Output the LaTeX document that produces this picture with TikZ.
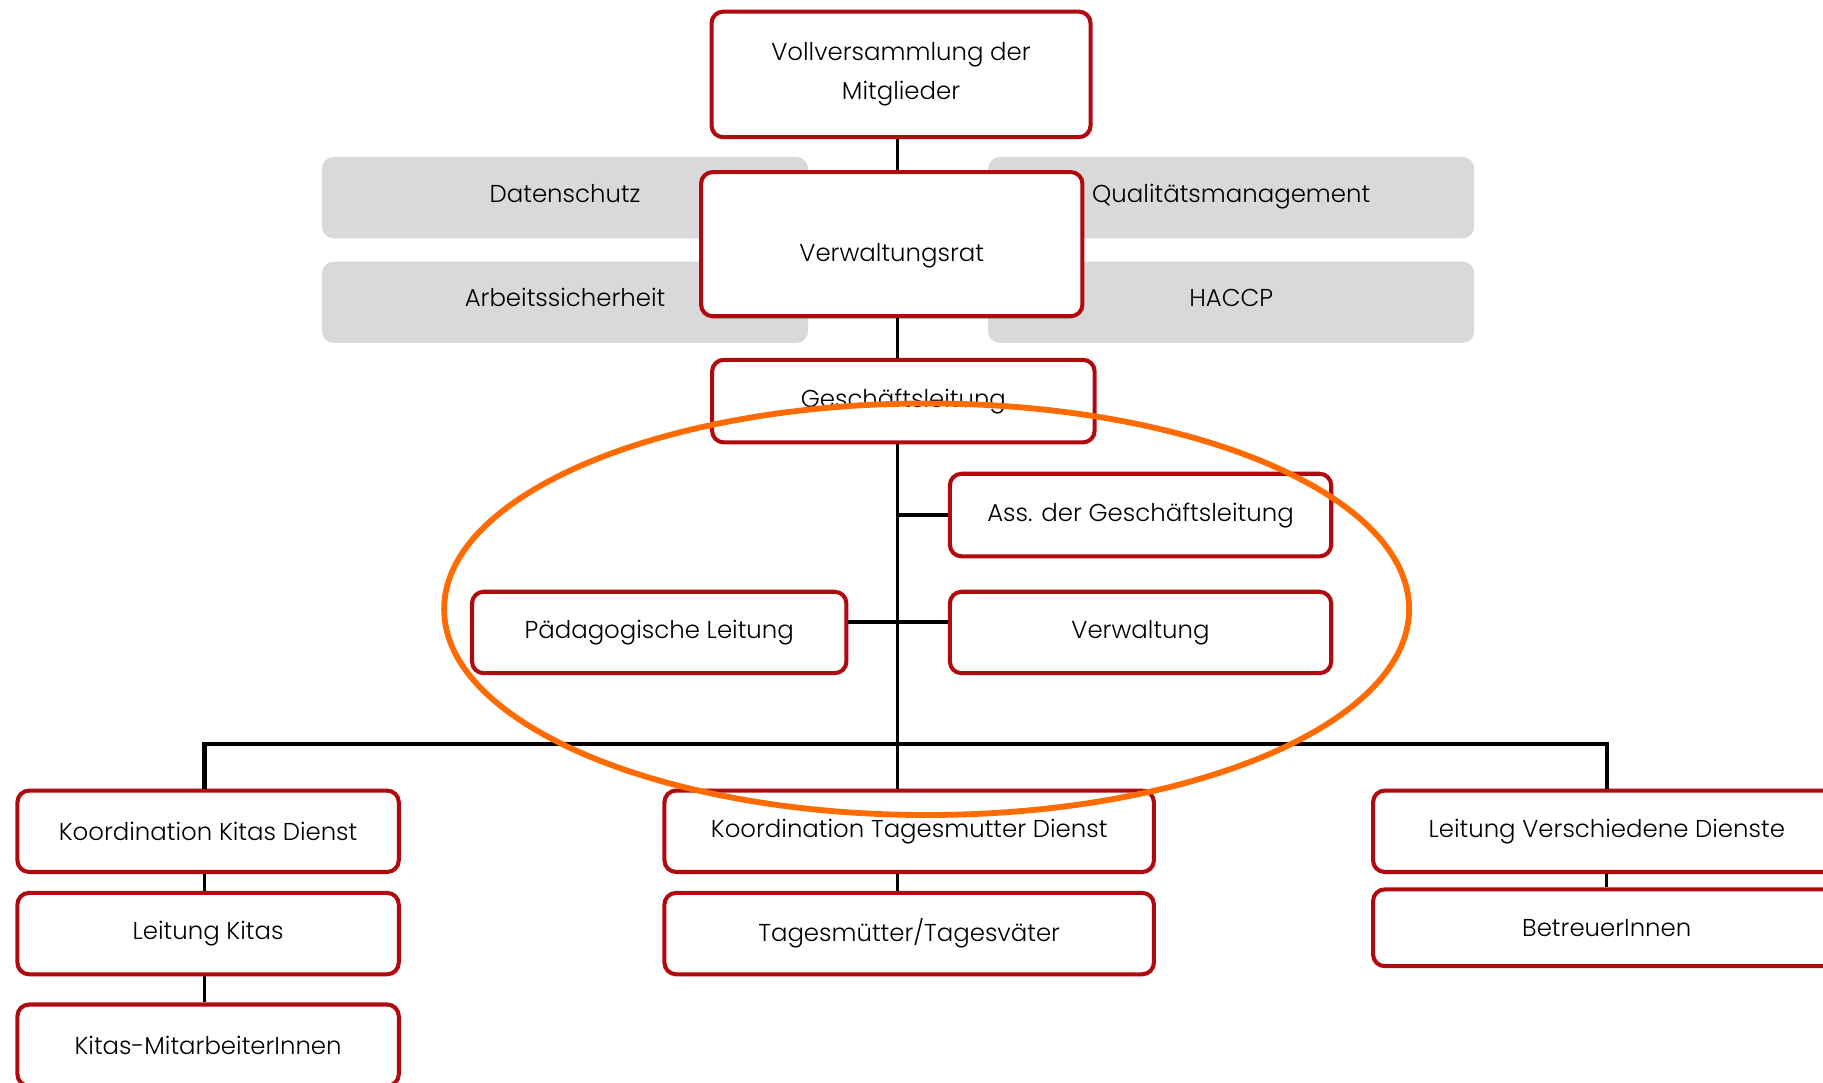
\documentclass[tikz,border=0pt]{standalone}
\usepackage{fontspec}
\setmainfont{Poppins}[UprightFont=* Light]
\definecolor{boxred}{HTML}{B00A0F}
\definecolor{sidegray}{HTML}{D9D9D9}
\definecolor{markorange}{HTML}{FF6B00}

\tikzset{
  orgbox/.style = {draw=boxred, line width=3.5pt, rounded corners=10pt, fill=white,
    align=center, inner sep=0pt, text centered, font=\fontsize{21}{34}\selectfont},
  sidebox/.style = {fill=sidegray, rounded corners=10pt, align=center, inner sep=0pt,
    minimum width=418, minimum height=70, text depth=8pt, font=\fontsize{21}{34}\selectfont},
  link/.style = {line width=2.5pt, black},
  thicklink/.style = {link, line width=3.8pt}
}

\begin{document}
\begin{tikzpicture}[x=1pt,y=-1pt]
\useasboundingbox (0,0) rectangle (1568,931);
\clip (0,0) rectangle (1568,931);

% gremien neben dem verwaltungsrat
\node [sidebox] (ds) at (486,170) {Datenschutz};
\node [sidebox] (as) at (486,260) {Arbeitssicherheit};
\node [sidebox] (qm) at (1059,170) {Qualitätsmanagement};
\node [sidebox] (haccp) at (1059,260) {HACCP};

% leitung
\node [orgbox, minimum width=326, minimum height=108] (vv) at (775,64) {Vollversammlung der\\Mitglieder};
\node [orgbox, minimum width=328, minimum height=124, text height=35pt, text depth=5pt] (vr) at (767,210) {Verwaltungsrat};
\node [orgbox, minimum width=329, minimum height=71] (gl) at (777,345) {Geschäftsleitung};
\node [orgbox, minimum width=328, minimum height=71] (ass) at (981,443) {Ass. der Geschäftsleitung};
\node [orgbox, minimum width=322, minimum height=70] (paed) at (567,544) {Pädagogische Leitung};
\node [orgbox, minimum width=328, minimum height=70] (verw) at (981,544) {Verwaltung};

% dienste
\node [orgbox, minimum width=328, minimum height=70] (kkd) at (179,715) {Koordination Kitas Dienst};
\node [orgbox, minimum width=328, minimum height=70] (lk) at (179,803) {Leitung Kitas};
\node [orgbox, minimum width=328, minimum height=70] (km) at (179,899) {Kitas-MitarbeiterInnen};
\node [orgbox, minimum width=421, minimum height=70] (ktd) at (782,715) {Koordination Tagesmutter Dienst};
\node [orgbox, minimum width=421, minimum height=70] (tt) at (782,803) {Tagesmütter/Tagesväter};
\node [orgbox, minimum width=402, minimum height=70] (lvd) at (1382,715) {Leitung Verschiedene Dienste};
\node [orgbox, minimum width=402, minimum height=66] (bi) at (1382,798) {BetreuerInnen};

\coordinate (bus) at (772,640);
\coordinate (stab) at (772,535);
\coordinate (kita) at (176,640);

% verbindungen
\draw [link] (vv.south -| bus) -- (vr.north -| bus);
\draw [link] (vr.south -| bus) -- (gl.north -| bus);
\draw [link] (gl.south -| bus) -- (ktd.north -| bus);
\draw [thicklink] (bus |- ass.west) -- (ass.west);
\draw [thicklink] (paed.east |- stab) -- (verw.west |- stab);
\draw [thicklink] (kkd.north -| kita) -- (kita) -- (lvd.north |- bus) -- (lvd.north);
\draw [link] (kkd.south -| kita) -- (lk.north -| kita);
\draw [link] (lk.south -| kita) -- (km.north -| kita);
\draw [link] (ktd.south -| bus) -- (tt.north -| bus);
\draw [link] (lvd.south) -- (bi.north);

% markierung
\draw [markorange, line width=5pt] (797,524) ellipse [x radius=415, y radius=177];
\end{tikzpicture}
\end{document}
